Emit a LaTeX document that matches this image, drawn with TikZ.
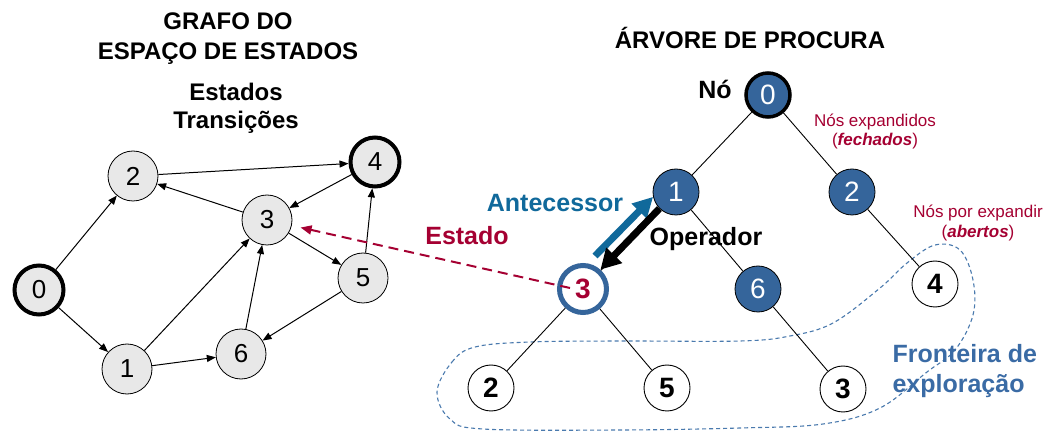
\documentclass[tikz,border=0pt]{standalone}
\usepackage{fontspec}
\setmainfont{Liberation Sans}
\usetikzlibrary{arrows.meta}
\definecolor{treeblue}{HTML}{35659B}
\definecolor{gfill}{HTML}{E8E8E8}
\definecolor{darkred}{HTML}{A50032}
\definecolor{antblue}{HTML}{10699B}
\definecolor{frontblue}{HTML}{3A6BA5}
\definecolor{curveblue}{HTML}{4A7AAE}
\newcommand\myfs[1]{\fontsize{#1}{#1}\selectfont}
\begin{document}
\begin{tikzpicture}[x=1pt,y=-1pt,
  gnode/.style={circle, draw=black, fill=gfill, minimum size=50pt, inner sep=0pt, line width=0.8pt, font=\myfs{26}},
  gthick/.style={gnode, line width=4pt, minimum size=49pt},
  gedge/.style={line width=1pt, -{Triangle[length=9pt,width=7pt]}},
  tblue/.style={circle, draw=black, fill=treeblue, text=white, minimum size=46pt, inner sep=0pt, line width=0.8pt, font=\myfs{28}},
  troot/.style={tblue, line width=3.5pt, minimum size=44pt},
  tleaf/.style={circle, draw=black, fill=white, minimum size=46pt, inner sep=0pt, line width=0.9pt, font=\myfs{28}\bfseries},
  tcur/.style={circle, draw=treeblue, fill=white, text=darkred, minimum size=47pt, inner sep=0pt, line width=5pt, font=\myfs{28}\bfseries},
  tedge/.style={line width=0.9pt},
  titletext/.style={anchor=base, font=\myfs{24}\bfseries},
  smalltext/.style={anchor=base, font=\myfs{17}, text=darkred},
  bigtext/.style={anchor=base, font=\myfs{25}\bfseries}
]
\fill[white] (0,0) rectangle (1053,446);
\useasboundingbox (0,0) rectangle (1053,446);

% ---- titles
\node[titletext] (tg1) at (228,30) {GRAFO DO};
\node[titletext] (tg2) at (228,60) {ESPAÇO DE ESTADOS};
\node[titletext] (tes) at (236,101) {Estados};
\node[titletext] (ttr) at (236,129) {Transições};
\node[titletext] (tar) at (750,49) {ÁRVORE DE PROCURA};

% ---- state graph
\node[gthick] (g0) at (39,290) {0};
\node[gnode] (g1) at (127,369) {1};
\node[gnode] (g2) at (133,176) {2};
\node[gnode] (g3) at (267,220) {3};
\node[gthick] (g4) at (375,162) {4};
\node[gnode] (g5) at (363,278) {5};
\node[gnode] (g6) at (241,354) {6};

\draw[gedge] (g0) -- (g2);
\draw[gedge] (g0) -- (g1);
\draw[gedge] (g2) -- (g4);
\draw[gedge] (g4) -- (g3);
\draw[gedge] (g3) -- (g2);
\draw[gedge] (g1) -- (g3);
\draw[gedge] (g1) -- (g6);
\draw[gedge] (g6) -- (g3);
\draw[gedge] (g3) -- (g5);
\draw[gedge] (g5) -- (g4);
\draw[gedge] (g5) -- (g6);

% ---- frontier curve
\draw[curveblue, line width=1.1pt, dash pattern=on 4pt off 3pt] plot[smooth cycle, tension=0.6] coordinates {
 (437,392) (452,362) (475,347) (530,342) (620,341) (740,341) (790,336) (833,323)
 (880,288) (907,263) (935,245) (960,250) (973,280) (973,315) (955,350) (927,372)
 (880,408) (823,424) (740,428) (620,430) (483,429) (450,419)};

% ---- search tree
\node[troot] (t0) at (768,95) {0};
\node[tblue] (t1) at (676,192) {1};
\node[tblue] (t2) at (852,192) {2};
\node[tcur] (t3) at (583,289) {3};
\node[tblue] (t6) at (758,289) {6};
\node[tleaf] (t4) at (935,284) {4};
\node[tleaf] (l2) at (491,388) {2};
\node[tleaf] (l5) at (667,388) {5};
\node[tleaf] (l3) at (843,389) {3};

\draw[tedge] (t0) -- (t1);
\draw[tedge] (t0) -- (t2);
\draw[tedge] (t1) -- (t3);
\draw[tedge] (t1) -- (t6);
\draw[tedge] (t2) -- (t4);
\draw[tedge] (t3) -- (l2);
\draw[tedge] (t3) -- (l5);
\draw[tedge] (t6) -- (l3);

% ---- labels
\node[bigtext] (lno) at (715,99) {Nó};
\node[smalltext] (lexp) at (875,127) {Nós expandidos};
\node[smalltext] (lfec) at (875,146) {(\textbf{\textit{fechados}})};
\node[smalltext] (lpor) at (978,218) {Nós por expandir};
\node[smalltext] (labe) at (978,238) {(\textbf{\textit{abertos}})};
\node[bigtext, text=antblue] (lant) at (555,212) {Antecessor};
\node[bigtext] (lope) at (706,246) {Operador};
\node[bigtext, text=darkred] (lest) at (467,245) {Estado};
\node[bigtext, anchor=base west, text=frontblue] (lfr1) at (889,363) {Fronteira de};
\node[bigtext, anchor=base west, text=frontblue] (lfr2) at (889,393) {exploração};

% ---- thick arrows
\coordinate (antS) at (595,256);
\draw[antblue, line width=7pt, -{Triangle[length=20pt,width=20pt]}] (antS) -- (t1.192);
\draw[black, line width=7pt, -{Triangle[length=20pt,width=21pt]}] (t1.225) -- (t3.48);

% ---- state link
\coordinate (estS) at (570,288);
\draw[darkred, line width=2pt, dash pattern=on 10pt off 6pt, -{Triangle[length=11pt,width=9pt]}, shorten >=9pt] (estS) -- (g3);
\end{tikzpicture}
\end{document}
